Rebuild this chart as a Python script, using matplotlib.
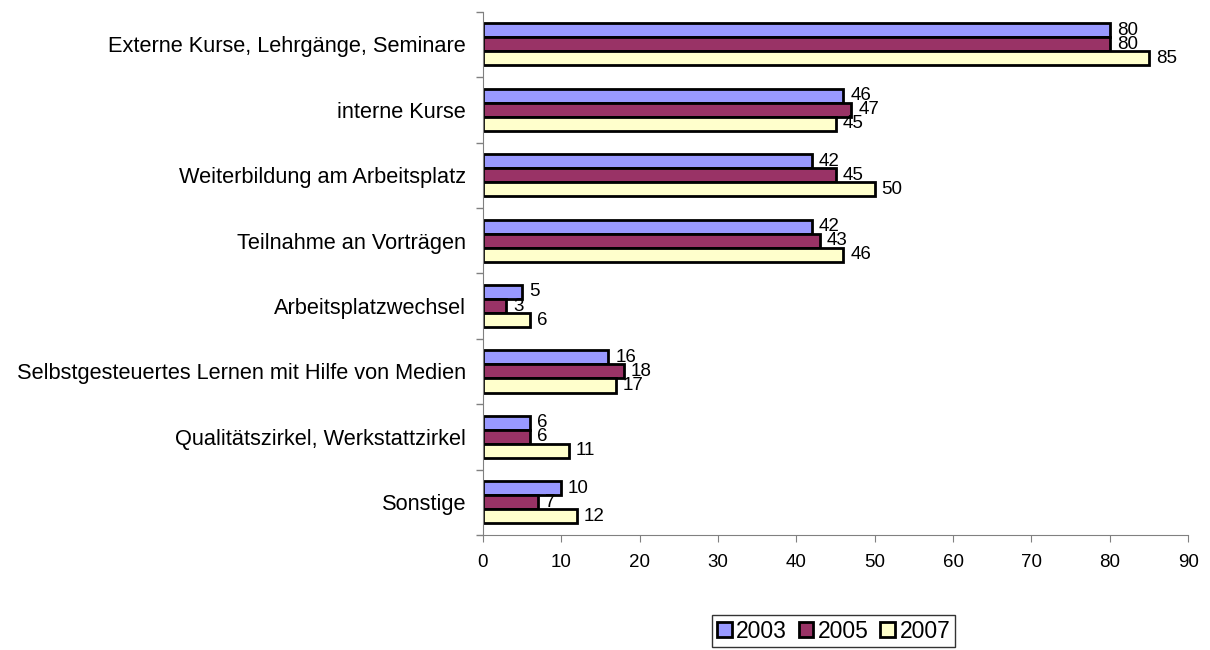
import numpy as np
import matplotlib.pyplot as plt

plt.rcParams["font.family"] = ["Liberation Sans", "DejaVu Sans"]

categories = [
    "Externe Kurse, Lehrgänge, Seminare",
    "interne Kurse",
    "Weiterbildung am Arbeitsplatz",
    "Teilnahme an Vorträgen",
    "Arbeitsplatzwechsel",
    "Selbstgesteuertes Lernen mit Hilfe von Medien",
    "Qualitätszirkel, Werkstattzirkel",
    "Sonstige",
]
years = ["2003", "2005", "2007"]
values_2003 = [80, 46, 42, 42, 5, 16, 6, 10]
values_2005 = [80, 47, 45, 43, 3, 18, 6, 7]
values_2007 = [85, 45, 50, 46, 6, 17, 11, 12]
colors = ["#9999FF", "#993366", "#FFFFCC"]

fig = plt.figure(figsize=(12.1, 6.5), dpi=100)
ax = fig.add_axes([0.399, 0.177, 0.583, 0.805])

n = len(categories)
pos = np.arange(n)
h = 0.215
series = [values_2003, values_2005, values_2007]
for i, (vals, col, yr) in enumerate(zip(series, colors, years)):
    y = pos + (i - 1) * h
    bars = ax.barh(y, vals, height=h, color=col, edgecolor="black",
                   linewidth=2, label=yr)
    for b, v in zip(bars, vals):
        ax.annotate(str(v), (v, b.get_y() + h / 2), xytext=(5, 0),
                    textcoords="offset points", va="center", ha="left",
                    fontsize=13.5)

ax.set_xlim(0, 90)
ax.set_xticks(range(0, 91, 10))
ax.set_ylim(n - 0.5, -0.5)
ax.set_yticks(pos)
ax.set_yticklabels(categories)
ax.set_yticks(np.arange(-0.5, n, 1), minor=True)
ax.tick_params(axis="y", which="major", length=0, pad=12, labelsize=15.7)
ax.tick_params(axis="y", which="minor", length=5, width=1, color="#808080")
ax.tick_params(axis="x", length=5, color="#808080", labelsize=13.5, pad=9)
for s in ["top", "right"]:
    ax.spines[s].set_visible(False)
for s in ["left", "bottom"]:
    ax.spines[s].set_color("#808080")

leg = fig.legend(loc="center", bbox_to_anchor=(0.689, 0.029), ncol=3,
                 frameon=True, fancybox=False, edgecolor="black",
                 handlelength=0.65, handleheight=0.65, handletextpad=0.2,
                 columnspacing=0.5, fontsize=16.5, borderpad=0.2)
leg.get_frame().set_linewidth(1)

fig.savefig("out.png", dpi=100)
